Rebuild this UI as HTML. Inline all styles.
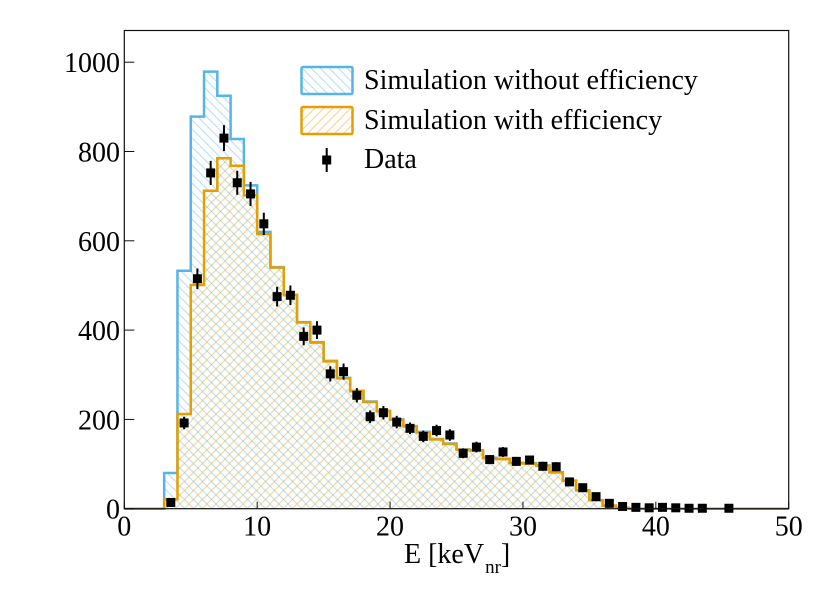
<!DOCTYPE html>
<html>
<head>
<meta charset="utf-8">
<style>
html,body{margin:0;padding:0;background:#fff;}
svg{display:block;}
text{font-family:"Liberation Serif","Times New Roman",serif;fill:#000;}
</style>
</head>
<body>
<svg id="chart" xmlns="http://www.w3.org/2000/svg" width="830" height="599" viewBox="0 0 830 599">
<defs>
<pattern id="hatch-blue" patternUnits="userSpaceOnUse" width="9" height="9">
<path d="M-1,-1 L10,10 M-1,8 L1,10 M8,-1 L10,1" stroke="#56b4e9" stroke-opacity="0.38" stroke-width="1.2" fill="none"/>
</pattern>
<pattern id="hatch-orange" patternUnits="userSpaceOnUse" width="9" height="9">
<path d="M-1,10 L10,-1 M-1,1 L1,-1 M8,10 L10,8" stroke="#e69f00" stroke-opacity="0.38" stroke-width="1.2" fill="none"/>
</pattern>
</defs>
<g id="plot"></g>
<g id="legend">
<rect x="301.5" y="67" width="51" height="27" rx="1.5" fill="url(#hatch-blue)" stroke="#56b4e9" stroke-width="2.5"/>
<text x="364" y="89" font-size="28">Simulation without efficiency</text>
<rect x="301.5" y="107" width="51" height="27" rx="1.5" fill="url(#hatch-orange)" stroke="#e69f00" stroke-width="2.5"/>
<text x="364" y="129" font-size="28">Simulation with efficiency</text>
<line x1="326.7" x2="326.7" y1="148" y2="172" stroke="#000" stroke-width="2"/>
<rect x="322.2" y="155.5" width="9" height="9" fill="#000"/>
<text x="364" y="168" font-size="28">Data</text>
</g>
<text x="404" y="563" font-size="28">E [keV<tspan font-size="19" dy="10" dx="1">nr</tspan><tspan dy="-10">]</tspan></text>
<script>
var binEdgesStart = 0;
var binWidth = 1;
var simWithoutEfficiency = [0,0,0,80,533,878,979,925,828,724,620,541,479,418,373,331,293,264,240,219,200,185,172,156,146,133,131,114,112,103,102,97,82,63,41,19,7,2,0,0,0,0,0,0,0,0,0,0,0,0];
var simWithEfficiency = [0,0,0,21,212,501,712,785,768,702,615,540,478,417,372,330,292,263,239,218,199,184,171,155,145,132,130,113,111,102,101,96,81,63,41,19,7,2,0,0,0,0,0,0,0,0,0,0,0,0];
var dataE = [3.5,4.5,5.5,6.5,7.5,8.5,9.5,10.5,11.5,12.5,13.5,14.5,15.5,16.5,17.5,18.5,19.5,20.5,21.5,22.5,23.5,24.5,25.5,26.5,27.5,28.5,29.5,30.5,31.5,32.5,33.5,34.5,35.5,36.5,37.5,38.5,39.5,40.5,41.5,42.5,43.5,45.5];
var dataCounts = [14,192,515,752,830,730,705,638,475,478,386,400,302,307,254,206,215,194,180,162,175,165,124,138,110,127,106,109,95,94,60,47,27,12,5,3,2,3,2,1,1,1];
var dataErrors = [4,14,23,27,29,27,27,25,22,22,20,20,17,18,16,14,15,14,13,13,13,13,11,12,10,11,10,10,10,10,8,7,5,3,2,2,1,2,1,1,1,1];
var xTicks = [0,10,20,30,40,50];
var yTicks = [0,200,400,600,800,1000];

var left = 124.3, right = 788.7, top_ = 30.5, bottom = 508.7;
var xMax = 50, yMax = 1071;
function xScale(v){ return left + (right - left) * v / xMax; }
function yScale(v){ return bottom - (bottom - top_) * v / yMax; }
var NS = 'http://www.w3.org/2000/svg';
var plot = document.getElementById('plot');
function make(tag, attrs){
  var el = document.createElementNS(NS, tag);
  for (var k in attrs) el.setAttribute(k, attrs[k]);
  plot.appendChild(el);
  return el;
}
function stepOutline(values){
  var d = 'M' + xScale(binEdgesStart) + ',' + yScale(0);
  for (var i = 0; i < values.length; i++){
    var x0 = binEdgesStart + i * binWidth;
    d += ' L' + xScale(x0) + ',' + yScale(values[i]);
    d += ' L' + xScale(x0 + binWidth) + ',' + yScale(values[i]);
  }
  return d;
}
function drawHist(values, pattern, color, name){
  var fillPath = make('path', {d: stepOutline(values) + ' L' + xScale(binEdgesStart + values.length * binWidth) + ',' + yScale(0) + ' Z', fill: 'url(#' + pattern + ')', stroke: 'none'});
  
  
  var linePath = make('path', {d: stepOutline(values), fill: 'none', stroke: color, 'stroke-width': 2.5, 'stroke-linejoin': 'miter'});
  
  
}
drawHist(simWithoutEfficiency, 'hatch-blue', '#56b4e9', 'sim-without-efficiency');
drawHist(simWithEfficiency, 'hatch-orange', '#e69f00', 'sim-with-efficiency');

for (var i = 0; i < dataE.length; i++){
  var px = xScale(dataE[i]), py = yScale(dataCounts[i]);
  var bar = make('line', {x1: px, x2: px, y1: yScale(dataCounts[i] + dataErrors[i]), y2: yScale(dataCounts[i] - dataErrors[i]), stroke: '#000', 'stroke-width': 2});
  
  
  var pt = make('rect', {x: px - 4.5, y: py - 4.5, width: 9, height: 9, fill: '#000'});
  
  
}

var frame = make('rect', {x: left, y: top_, width: right - left, height: bottom - top_, fill: 'none', stroke: '#111', 'stroke-width': 1.2});



xTicks.forEach(function(t){
  var px = xScale(t);
  var tick = make('line', {x1: px, x2: px, y1: bottom, y2: bottom - 7, stroke: '#111', 'stroke-width': 1});
  
  
  var label = make('text', {x: px, y: 535.5, 'font-size': 28, 'text-anchor': 'middle'});
  
  
  label.textContent = t;
});
yTicks.forEach(function(t){
  var py = yScale(t);
  var tick = make('line', {x1: left, x2: left + 10, y1: py, y2: py, stroke: '#111', 'stroke-width': 1});
  
  
  var label = make('text', {x: 120, y: py + 10, 'font-size': 28, 'text-anchor': 'end'});
  
  
  label.textContent = t;
});
</script>
</svg>
</body>
</html>
